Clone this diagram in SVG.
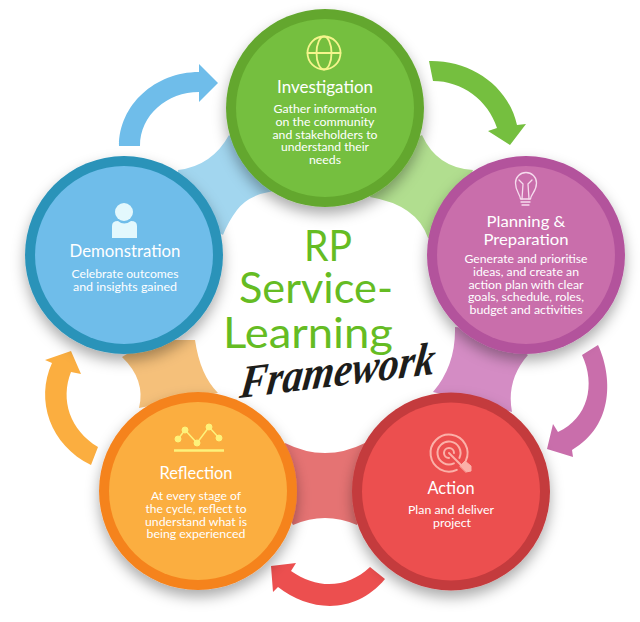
<svg xmlns="http://www.w3.org/2000/svg" width="640" height="622" viewBox="0 0 640 622">
<defs>
<filter id="sh" x="-20%" y="-20%" width="140%" height="150%"><feDropShadow dx="0" dy="7" stdDeviation="7" flood-color="#000" flood-opacity="0.33"/></filter>
</defs>
<style>
text{font-family:"Lato","Open Sans","Liberation Sans",sans-serif;fill:#fff;text-anchor:middle}
.h{font-size:16.500px}
.h2{font-size:15px}
.b{font-size:10.500px}
.t{font-size:43px;fill:#65bc23}
.f{font-family:"Liberation Serif",serif;font-weight:bold;font-style:italic;font-size:46px;fill:#1d1d1b}
.ic{fill:none;stroke-linecap:round;stroke-linejoin:round}
circle.o{filter:url(#sh)}
</style>
<rect width="640" height="622" fill="#fff"/>
<g id="connectors">
<path id="band-blue" fill="#a2d6ef" d="M178 170Q212 166 229 135L290 190Q252 190 237 210Q228 222 223 235L180 210Z"/>
<path id="band-green" fill="#b1de8f" d="M422 135Q437 168 473 170L445 245L428 238Q417 205 370 197L390 150Z"/>
<path id="band-pink" fill="#d48cc4" d="M455 327Q456 365 433 392L512 412Q506 380 528 355L490 330Z"/>
<path id="band-red" fill="#e57373" d="M285 443Q325 463 365 443L370 500L357 525Q325 511 293 525L280 500Z"/>
<path id="band-orange" fill="#f5c07a" d="M122 357Q146 380 139 408L218 393Q200 375 195 340L150 340Z"/>
<path id="arrow-green" fill="#75bf3f" d="M429 61C470 60 508 85 517 125L526 124L510 145L488 131L497 128C488 100 462 81 433 81Z"/>
<path id="arrow-pink" fill="#c96eab" d="M598 345C612 375 615 425 572 450L573 457L547 449L553 424L558 432C588 418 596 385 582 355Z"/>
<path id="arrow-red" fill="#ec4f4f" d="M370 567L385 579C355 615 310 612 278 587L273 592L271 566L296 563L291 571C318 590 348 588 370 567Z"/>
<path id="arrow-orange" fill="#fbae40" d="M98 447L91 465C50 445 35 400 52 363L45 360L71 351L81 374L71 372C60 400 70 430 98 447Z"/>
<path id="arrow-blue" fill="#6fbdea" d="M119 146C119 105 155 72 199 72V64L218 83L199 102V92C167 92 140 115 140 146Z"/>
</g>
<g id="node-investigation">
<circle class="o" cx="325" cy="108" r="99" fill="#63a72f"/><circle cx="325" cy="108" r="89" fill="#75bf3f"/>
<g class="ic" stroke="#f5f58c" stroke-width="1.800"><circle cx="324" cy="53" r="16.500"/><ellipse cx="324" cy="53" rx="7.500" ry="16.500"/><path d="M307.500 53H340.500"/></g>
<text class="h" x="325" y="93" textLength="96" lengthAdjust="spacingAndGlyphs">Investigation</text>
<text class="b" x="325" y="113" textLength="103" lengthAdjust="spacingAndGlyphs">Gather information</text>
<text class="b" x="325" y="126" textLength="99" lengthAdjust="spacingAndGlyphs">on the community</text>
<text class="b" x="325" y="138.500" textLength="105" lengthAdjust="spacingAndGlyphs">and stakeholders to</text>
<text class="b" x="325" y="151" textLength="88" lengthAdjust="spacingAndGlyphs">understand their</text>
<text class="b" x="325" y="164" textLength="32" lengthAdjust="spacingAndGlyphs">needs</text>
</g>
<g id="node-planning">
<circle class="o" cx="526" cy="255" r="99" fill="#b3529c"/><circle cx="526" cy="255" r="89" fill="#c96eab"/>
<g class="ic" stroke="#f6dcee" stroke-width="1.300"><path d="M520.500 199C520 194 515.500 191.500 515.500 183A10.500 10.500 0 0 1 536.500 183C536.500 191.500 531 194 530.500 199Z"/><path d="M522 199L523 184M529 199L528 184M523 184L519 180M528 184L532 180"/><path d="M521 202H530M522 205H529"/></g>
<text class="h2" x="526" y="227" textLength="79" lengthAdjust="spacingAndGlyphs">Planning &amp;</text>
<text class="h2" x="526" y="245" textLength="85" lengthAdjust="spacingAndGlyphs">Preparation</text>
<text class="b" x="526" y="263" textLength="123" lengthAdjust="spacingAndGlyphs">Generate and prioritise</text>
<text class="b" x="526" y="276" textLength="106" lengthAdjust="spacingAndGlyphs">ideas, and create an</text>
<text class="b" x="526" y="288.500" textLength="115" lengthAdjust="spacingAndGlyphs">action plan with clear</text>
<text class="b" x="526" y="301" textLength="116" lengthAdjust="spacingAndGlyphs">goals, schedule, roles,</text>
<text class="b" x="526" y="314" textLength="113" lengthAdjust="spacingAndGlyphs">budget and activities</text>
</g>
<g id="node-action">
<circle class="o" cx="451" cy="491.500" r="99" fill="#c43b3d"/><circle cx="451" cy="491.500" r="89" fill="#ec4f4f"/>
<g class="ic" stroke="#fbb0a8" stroke-width="2"><path d="M456.800 469.800A18.500 18.500 0 1 1 465.800 460.800M453.900 463.400A11.500 11.500 0 1 1 459.400 457.900M449 458A5 5 0 1 1 454 453M449 453L462 466"/><path d="M460 466L465 461L471 466L471 471L466 472Z" fill="#fbb0a8" stroke-width="1"/></g>
<text class="h" x="451" y="494" textLength="47" lengthAdjust="spacingAndGlyphs">Action</text>
<text class="b" x="451" y="514" textLength="86" lengthAdjust="spacingAndGlyphs">Plan and deliver</text>
<text class="b" x="452" y="527" textLength="38" lengthAdjust="spacingAndGlyphs">project</text>
</g>
<g id="node-reflection">
<circle class="o" cx="198" cy="491" r="99" fill="#f5831f"/><circle cx="198" cy="491" r="89" fill="#fbae40"/>
<g fill="#fdf27b" stroke="#fdf27b"><path d="M178 439L185 430L197 443L209 427L219 438" fill="none" stroke-width="1.500"/><circle cx="178" cy="439" r="3"/><circle cx="185" cy="430" r="3"/><circle cx="197" cy="443" r="3"/><circle cx="209" cy="427" r="3"/><circle cx="219" cy="438" r="3"/><path d="M174 450.500H224" stroke-width="2.500"/></g>
<text class="h" x="196" y="479" textLength="73" lengthAdjust="spacingAndGlyphs">Reflection</text>
<text class="b" x="196" y="500" textLength="90" lengthAdjust="spacingAndGlyphs">At every stage of</text>
<text class="b" x="196" y="513" textLength="101" lengthAdjust="spacingAndGlyphs">the cycle, reflect to</text>
<text class="b" x="196" y="525.500" textLength="102" lengthAdjust="spacingAndGlyphs">understand what is</text>
<text class="b" x="196" y="538" textLength="99" lengthAdjust="spacingAndGlyphs">being experienced</text>
</g>
<g id="node-demonstration">
<circle class="o" cx="124" cy="255" r="99" fill="#2b93b9"/><circle cx="124" cy="255" r="89" fill="#6fbdea"/>
<g fill="#e3f8fd"><circle cx="124" cy="212" r="9"/><path d="M112 238V226Q112 221 118 221Q124 226 131 221Q137 221 137 226V238Z"/></g>
<text class="h" x="125" y="257" textLength="111" lengthAdjust="spacingAndGlyphs">Demonstration</text>
<text class="b" x="125" y="278" textLength="107" lengthAdjust="spacingAndGlyphs">Celebrate outcomes</text>
<text class="b" x="125" y="291" textLength="104" lengthAdjust="spacingAndGlyphs">and insights gained</text>
</g>
<g id="title">
<text class="t" x="328" y="261" textLength="48" lengthAdjust="spacingAndGlyphs">RP</text>
<text class="t" x="316" y="303" textLength="154" lengthAdjust="spacingAndGlyphs">Service-</text>
<text class="t" x="308" y="348" textLength="170" lengthAdjust="spacingAndGlyphs">Learning</text>
<g transform="translate(336 386) rotate(-7) skewX(-14)"><text class="f" x="0" y="0" textLength="196" lengthAdjust="spacingAndGlyphs">Framework</text></g>
</g>
</svg>
